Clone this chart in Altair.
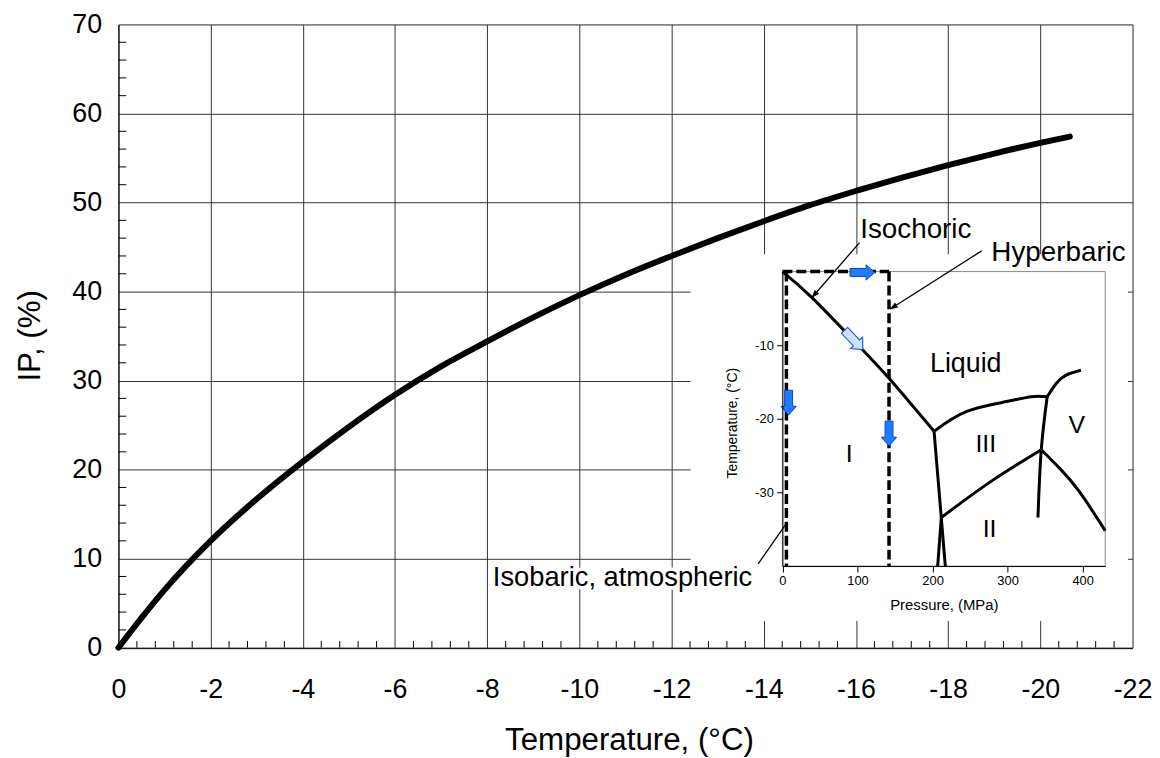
import altair as alt
import pandas as pd

FONT = "Liberation Sans"

# ---------------- main curve: ice percentage vs temperature ----------------
temp_c = [0, -0.5, -1, -2, -3, -4, -5, -6, -7, -8, -9, -10, -11, -12, -13, -14, -15, -16, -17, -18, -19, -20, -20.64]
ip_pct = [0, 3.35, 6.5, 12.0, 16.7, 20.9, 24.8, 28.4, 31.6, 34.4, 37.1, 39.6, 41.9, 44.0, 46.0, 47.9, 49.7, 51.3, 52.8, 54.2, 55.5, 56.7, 57.4]

x_major = [0, -2, -4, -6, -8, -10, -12, -14, -16, -18, -20, -22]
y_major = [0, 10, 20, 30, 40, 50, 60, 70]
x_minor = [round(-0.4 * i, 2) for i in range(1, 55) if i % 5 != 0]
y_minor = [v for v in range(2, 70, 2) if v % 10 != 0]

# white area of the inset picture (main-chart units)
cover_t = [-12.41, -21.9]
cover_ip = [3.0, 44.18]

# ---------------- inset: phase diagram of water ----------------
boundaries = {
    "I-L": ([0, 40, 100, 142, 202], [0, -3.6, -9.9, -14.5, -21.7]),
    "I-III": ([202, 217], [-21.7, -40]),
    "I-II": ([211.7, 206.8], [-33.4, -40]),
    "II-III": ([211.7, 276.5, 344.8], [-33.4, -28.6, -24.2]),
    "III-L": ([202, 245.6, 298.5, 331.6, 352.7], [-21.7, -19.0, -17.66, -17.0, -17.0]),
    "V-L": ([352.7, 364.7, 377.9, 397.7], [-17.0, -15.2, -14.06, -13.4]),
    "II-V a": ([340.4, 344.8, 352.7], [-33.4, -24.2, -17.0]),
    "II-V b": ([344.8, 369.1, 395.6, 430], [-24.2, -26.7, -29.9, -35.2]),
}

dash_p1 = [5.3, 0, 142]
dash_t1 = [0, 0, 0]
dash_p2 = [5.3, 142, 142]
dash_t2 = [-40, 0, -40]

lead_p1 = [102.7, 265.4, -32.3, 3.9]
lead_t1 = [3.93, 2.81, -39.7, -34.4]
lead_p2 = [39.7, 144.2, 3.9, 5.3]
lead_t2 = [-3.49, -5.06, -34.4, -34.4]

head_p = [42.3, 147.5]
head_t = [-3.18, -4.84]
head_angle = [130.9, 147.5]

arrow_p = [106.5, 8.3, 142]
arrow_t = [-0.12, -17.8, -22.0]
arrow_angle = [0, 90, 90]
hatch_p = [95.0]
hatch_t = [-9.3]
hatch_angle = [46.5]

region_text = ["Liquid", "I", "III", "II", "V"]
region_p = [244.2, 88.9, 270.9, 276.0, 392.2]
region_t = [-13.61, -25.84, -24.54, -36.09, -21.93]
region_size = [27, 25, 25, 25, 25]

note_text = ["Isochoric", "Hyperbaric"]
note_p = [103.6, 278.3]
note_t = [4.52, 1.46]

iso_text = ["Isobaric, atmospheric"]
iso_t = [-13.75]
iso_ip = [6.98]

# ---------------- encodings ----------------
W, H = 1021, 627.5
neg_label = "datum.value < 0 ? '-' + abs(datum.value) : '' + datum.value"

main_x_scale = alt.Scale(domain=[0, -22], nice=False, zero=False)
main_y_scale = alt.Scale(domain=[0, 70], nice=False, zero=False)
main_x_axis = alt.Axis(
    values=x_major, orient="bottom", grid=True, gridColor="#333333", gridWidth=1,
    ticks=False, tickSize=0, domainColor="black", labelFont=FONT, labelFontSize=27,
    labelColor="black", labelPadding=29, labelFlush=False, labelOverlap=False,
    labelExpr=neg_label, title="Temperature, (°C)", titleFont=FONT, titleFontSize=31.5,
    titleFontWeight="normal", titleColor="black", titleX=514, titleY=103, titleBaseline="alphabetic",
    zindex=0,
)
main_y_axis = alt.Axis(
    values=y_major, orient="left", grid=True, gridColor="#333333", gridWidth=1,
    ticks=False, tickSize=0, domainColor="black", labelFont=FONT, labelFontSize=27,
    labelColor="black", labelPadding=17, labelFlush=False, labelOverlap=False,
    title="IP, (%)", titleFont=FONT, titleFontSize=31.5, titleFontWeight="normal",
    titleColor="black", titleAngle=270, titleAlign="center", titleBaseline="middle",
    titleX=-88, titleY=313, zindex=0,
)


def MX(f):
    return alt.X(f, type="quantitative", scale=main_x_scale, axis=main_x_axis)


def MY(f):
    return alt.Y(f, type="quantitative", scale=main_y_scale, axis=main_y_axis)


ins_x_scale = alt.Scale(domain=[0, 430], range=[668.5, 993.5], nice=False, zero=False)
ins_y_scale = alt.Scale(domain=[-40, 0], range=[545.3, 248.8], nice=False, zero=False)
ins_x_axis = alt.Axis(
    values=[0, 100, 200, 300, 400], orient="bottom", offset=-(H - 545.3), grid=False,
    ticks=True, tickSize=6, tickColor="black", domainColor="black", labelFont=FONT,
    labelFontSize=13, labelColor="black", labelPadding=3, labelFlush=False,
    labelOverlap=False, title="Pressure, (MPa)", titleFont=FONT, titleFontSize=15,
    titleFontWeight="normal", titleColor="black", titleY=39, titleBaseline="middle",
    zindex=2,
)
ins_y_axis = alt.Axis(
    values=[-10, -20, -30], orient="left", offset=-668.5, grid=False, ticks=True,
    tickSize=6, tickColor="black", domainColor="black", labelFont=FONT, labelFontSize=13,
    labelColor="black", labelPadding=3, labelFlush=False, labelOverlap=False,
    labelExpr=neg_label, title="Temperature, (°C)", titleFont=FONT, titleFontSize=14,
    titleFontWeight="normal", titleColor="black", titleAngle=270, titleAlign="center",
    titleBaseline="middle", titleX=-50, titleY=401, zindex=2,
)


def IX(f):
    return alt.X(f, type="quantitative", scale=ins_x_scale, axis=ins_x_axis)


def IY(f):
    return alt.Y(f, type="quantitative", scale=ins_y_scale, axis=ins_y_axis)


# ---------------- main layers ----------------
cover = alt.Chart(pd.DataFrame({"t0": [cover_t[0]], "t1": [cover_t[1]],
                                "i0": [cover_ip[0]], "i1": [cover_ip[1]]})).mark_rect(
    fill="white", stroke=None).encode(x=MX("t0"), x2="t1", y=MY("i0"), y2="i1")

curve = alt.Chart(pd.DataFrame({"T": temp_c, "IP": ip_pct})).mark_line(
    color="black", strokeWidth=6, interpolate="monotone", strokeCap="round"
).encode(x=MX("T"), y=MY("IP"))

minor_x = alt.Chart(pd.DataFrame({"T": x_minor, "a": 0.0, "b": 0.75})).mark_rule(
    color="black", strokeWidth=1).encode(x=MX("T"), y=MY("a"), y2="b")
minor_y = alt.Chart(pd.DataFrame({"IP": y_minor, "a": 0.0, "b": -0.17})).mark_rule(
    color="black", strokeWidth=1).encode(y=MY("IP"), x=MX("a"), x2="b")

iso_df = pd.DataFrame({"txt": iso_text, "T": iso_t, "IP": iso_ip})
iso_halo = alt.Chart(iso_df).mark_text(
    font=FONT, fontSize=27.5, align="right", baseline="alphabetic", color="white",
    stroke="white", strokeWidth=7
).encode(x=MX("T"), y=MY("IP"), text="txt:N")
iso_lbl = alt.Chart(iso_df).mark_text(
    font=FONT, fontSize=27.5, align="right", baseline="alphabetic", color="black"
).encode(x=MX("T"), y=MY("IP"), text="txt:N")

main = alt.layer(cover, curve, minor_x, minor_y, iso_halo, iso_lbl)

# ---------------- inset layers ----------------
frame = alt.Chart(pd.DataFrame({"p0": [0], "p1": [430], "t0": [-40], "t1": [0]})).mark_rect(
    fill="white", fillOpacity=0, stroke="#8a8a8a", strokeWidth=1
).encode(x=IX("p0"), x2="p1", y=IY("t0"), y2="t1")

rows = []
for name, (ps, ts) in boundaries.items():
    for i, (p, t) in enumerate(zip(ps, ts)):
        rows.append({"seg": name, "i": i, "P": p, "Tc": t})
phase = alt.Chart(pd.DataFrame(rows)).mark_line(
    color="black", strokeWidth=3, interpolate="natural", strokeCap="butt"
).encode(x=IX("P"), y=IY("Tc"), detail="seg:N", order="i:Q")

dashed = alt.Chart(pd.DataFrame({"P": dash_p1, "Tc": dash_t1, "P2": dash_p2, "T2": dash_t2})).mark_rule(
    color="black", strokeWidth=3.5, strokeDash=[10, 4]
).encode(x=IX("P"), y=IY("Tc"), x2="P2", y2="T2")

leaders = alt.Chart(pd.DataFrame({"P": lead_p1, "Tc": lead_t1, "P2": lead_p2, "T2": lead_t2})).mark_rule(
    color="black", strokeWidth=1.3
).encode(x=IX("P"), y=IY("Tc"), x2="P2", y2="T2")

heads = alt.Chart(pd.DataFrame({"P": head_p, "Tc": head_t, "ang": head_angle})).mark_point(
    shape="M -1 -0.7 L 1 0 L -1 0.7 Z", filled=True, color="black", size=70, opacity=1
).encode(x=IX("P"), y=IY("Tc"), angle=alt.Angle("ang:Q", scale=None))

ARROW = "M -1 -0.32 L 0.3 -0.32 L 0.3 -0.62 L 1 0 L 0.3 0.62 L 0.3 0.32 L -1 0.32 Z"
blue_arrows = alt.Chart(pd.DataFrame({"P": arrow_p, "Tc": arrow_t, "ang": arrow_angle})).mark_point(
    shape=ARROW, filled=True, fill="#1f7dff", stroke="#0a3fd6", strokeWidth=1, size=620,
    opacity=1
).encode(x=IX("P"), y=IY("Tc"), angle=alt.Angle("ang:Q", scale=None))

hatch_arrow = alt.Chart(pd.DataFrame({"P": hatch_p, "Tc": hatch_t, "ang": hatch_angle})).mark_point(
    shape=ARROW, filled=True, fill="#cfe2ff", stroke="#1f5fe0", strokeWidth=1.2, size=720,
    opacity=1
).encode(x=IX("P"), y=IY("Tc"), angle=alt.Angle("ang:Q", scale=None))

regions = alt.Chart(pd.DataFrame({"txt": region_text, "P": region_p, "Tc": region_t,
                                  "fs": region_size})).mark_text(
    font=FONT, align="center", baseline="alphabetic", color="black"
).encode(x=IX("P"), y=IY("Tc"), text="txt:N", size=alt.Size("fs:Q", scale=None))

notes = alt.Chart(pd.DataFrame({"txt": note_text, "P": note_p, "Tc": note_t})).mark_text(
    font=FONT, fontSize=28, align="left", baseline="alphabetic", color="black"
).encode(x=IX("P"), y=IY("Tc"), text="txt:N")

inset = alt.layer(frame, phase, dashed, leaders, heads, blue_arrows, hatch_arrow, regions, notes)

chart = alt.layer(main, inset).resolve_scale(
    x="independent", y="independent"
).properties(
    width=W, height=H,
    autosize=alt.AutoSizeParams(type="none"),
    padding={"left": 111.2, "top": 14, "right": 19.6, "bottom": 110},
).configure_view(stroke="black", strokeWidth=1).configure(background="white")

chart.save("out.html", embed_options={"renderer": "svg", "actions": False})
